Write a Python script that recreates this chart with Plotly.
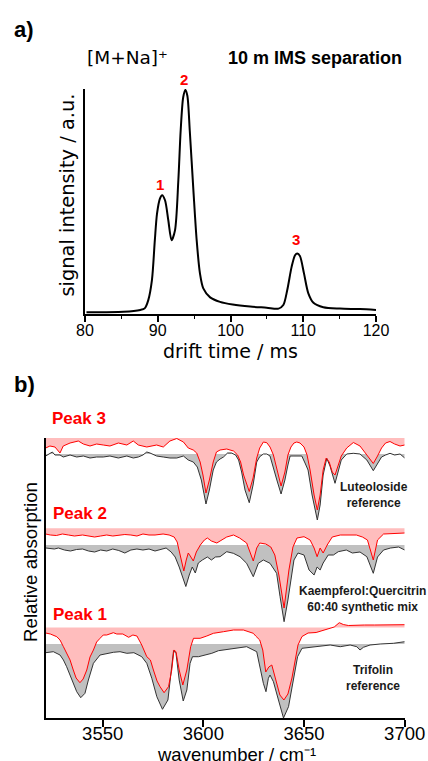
import plotly.graph_objects as go

# ---------------- Panel a: drift time chromatogram ----------------
drift_time = [80.2, 85.3, 87.6, 88.2, 88.7, 89.2, 89.6, 89.9, 90.3, 90.6, 91.0, 91.45, 91.9,
              92.37, 92.83, 93.15, 93.5, 93.8, 94.07, 94.4, 94.9, 95.35, 95.8, 96.26, 97.2,
              98.56, 100.3, 102.7, 104.97, 106.6, 107.26, 107.8, 108.4, 108.87, 109.18,
              109.55, 110.1, 110.7, 111.4, 112.75, 115.05, 117.8, 120.0]
intensity = [0.008, 0.010, 0.018, 0.025, 0.062, 0.151, 0.329, 0.447, 0.514, 0.529, 0.507,
             0.418, 0.329, 0.373, 0.596, 0.818, 0.966, 0.999, 0.973, 0.818, 0.551, 0.329,
             0.181, 0.114, 0.074, 0.054, 0.042, 0.033, 0.028, 0.024, 0.040, 0.107, 0.210,
             0.262, 0.270, 0.258, 0.181, 0.092, 0.050, 0.030, 0.024, 0.022, 0.018]
drift_ticks = [80, 90, 100, 110, 120]

# ---------------- Panel b: IR spectra ----------------
p3_red_x = [3521.7, 3523.8, 3526.3, 3528.8, 3530.4, 3533.8, 3537.9, 3540.4, 3543.7, 3547.0,
            3550.3, 3553.6, 3557.8, 3562.0, 3565.2, 3567.7, 3571.9, 3576.8, 3580.1, 3583.4,
            3586.8, 3590.1, 3592.5, 3595.0, 3596.7, 3598.4, 3599.8, 3601.3, 3603.0, 3604.9,
            3606.5, 3608.3, 3611.6, 3615.0, 3617.0, 3618.5, 3620.0, 3622.8, 3624.7, 3626.5,
            3628.0, 3629.8, 3631.5, 3633.1, 3634.8, 3636.5, 3638.6, 3640.5, 3642.0, 3643.5,
            3645.0, 3646.4, 3648.0, 3650.0, 3651.5, 3653.0, 3655.0, 3656.6, 3658.0, 3659.5,
            3661.0, 3662.5, 3664.0, 3665.4, 3667.0, 3668.5, 3671.2, 3674.5, 3677.8, 3680.0,
            3682.0, 3684.4, 3686.5, 3688.5, 3690.5, 3692.7, 3695.0, 3697.7, 3700.0]
p3_red_y = [-1.0, -0.8, -0.9, -1.5, -0.8, -0.5, -0.3, -0.6, -0.8, -0.6,
            -0.7, -0.8, -0.5, -0.7, -0.3, -0.7, -0.9, -0.7, -0.9, -0.3,
            -0.05, -0.4, -1.0, -1.2, -1.5, -2.4, -3.7, -5.5, -4.2, -2.4,
            -1.4, -1.2, -1.1, -1.3, -1.7, -2.4, -3.7, -5.35, -4.0, -2.0,
            -1.0, -0.4, -0.47, -0.9, -1.7, -3.0, -4.8, -3.4, -1.7, -0.9,
            -0.5, -0.4, -0.5, -0.9, -1.7, -3.2, -5.7, -7.2, -5.7, -3.2,
            -2.0, -2.4, -3.4, -3.7, -2.7, -1.8, -1.0, -0.45, -0.8, -1.4,
            -2.0, -2.55, -1.8, -1.0, -0.5, -0.35, -0.6, -0.8, -0.7]
p3_blk_x = [3521.7, 3523.8, 3525.0, 3526.3, 3528.8, 3530.4, 3533.8, 3537.1, 3540.4, 3543.7,
            3547.0, 3550.3, 3553.6, 3557.8, 3562.0, 3565.2, 3567.7, 3570.0, 3571.9, 3573.5,
            3576.8, 3580.1, 3583.4, 3586.8, 3590.1, 3592.5, 3595.0, 3597.0, 3599.0, 3601.3,
            3603.0, 3604.9, 3606.5, 3608.3, 3610.0, 3612.0, 3614.0, 3616.0, 3617.5, 3619.0,
            3620.7, 3622.8, 3624.7, 3626.5, 3628.0, 3629.8, 3631.5, 3633.1, 3634.5, 3636.5,
            3638.6, 3640.5, 3642.0, 3643.1, 3645.0, 3648.9, 3650.5, 3652.0, 3654.0, 3656.6,
            3658.0, 3659.5, 3661.3, 3662.9, 3665.4, 3667.0, 3668.5, 3671.2, 3674.5, 3677.8,
            3681.2, 3684.4, 3686.5, 3688.5, 3690.5, 3692.7, 3695.0, 3697.7, 3700.0]
p3_blk_y = [-0.2, 0.1, 0.2, -0.1, -0.1, -0.3, -0.1, -0.3, -0.2, -0.4,
            -0.3, -0.3, -0.2, -0.4, -0.2, -0.4, -0.3, -0.1, 0.2, 0.1,
            -0.2, -0.3, -0.4, -0.4, -0.2, -0.6, -0.8, -1.3, -2.6, -5.0,
            -3.6, -1.6, -0.8, -0.5, -0.3, 0.1, 0.1, -0.1, -0.6, -1.8,
            -3.6, -4.87, -3.1, -0.8, -0.27, 0.0, 0.0, -0.2, -1.3, -2.6,
            -4.0, -2.6, -1.1, -0.2, -0.2, -0.2, -0.9, -1.6, -4.1, -6.6,
            -5.1, -2.1, -0.43, -1.2, -2.93, -1.6, -0.6, 0.0, 0.07, 0.0,
            -0.6, -1.67, -0.9, -0.3, -0.1, 0.07, -0.1, 0.0, -0.4]

p2_red_x = [3521.7, 3524, 3527, 3530, 3533, 3536, 3540, 3543, 3546, 3549, 3552, 3555, 3558,
            3561, 3564, 3567, 3570, 3573, 3576, 3580, 3583, 3585.5, 3587, 3588.5, 3590.3,
            3591.5, 3592.5, 3593.5, 3595, 3596.5, 3598.5, 3600.5, 3602, 3604, 3606.7, 3608.3,
            3611.6, 3615, 3618, 3621.5, 3624.8, 3626.5, 3628, 3631, 3633.5, 3635.5, 3637.5,
            3640.1, 3642.5, 3644.5, 3646.5, 3650, 3653, 3655, 3656.5, 3658, 3659.5, 3661.5,
            3664, 3668, 3672, 3676, 3679, 3681.5, 3684.4, 3686.5, 3689.5, 3694, 3698, 3700]
p2_red_y = [-0.57, -0.67, -0.72, -0.57, -0.67, -0.77, -0.67, -0.77, -0.87, -0.77, -0.67,
            -0.77, -0.67, -0.62, -0.67, -0.77, -0.57, -0.67, -0.67, -0.57, -0.67, -0.87,
            -1.37, -2.67, -4.27, -3.17, -2.47, -2.77, -3.27, -2.37, -1.67, -1.17, -0.97,
            -1.27, -1.47, -1.27, -0.87, -0.67, -0.97, -1.47, -3.27, -1.97, -1.47, -1.57,
            -1.87, -2.67, -4.67, -7.97, -4.17, -1.87, -0.97, -0.84, -1.17, -1.97, -2.84,
            -1.97, -2.47, -1.67, -0.87, -0.67, -0.67, -0.67, -0.87, -1.17, -3.17, -1.17,
            -0.57, -0.52, -0.47, -0.47]
p2_blk_x = [3521.7, 3524, 3526, 3528, 3531, 3534, 3537, 3540, 3543, 3546, 3549, 3552, 3555,
            3558, 3561, 3564, 3567, 3570, 3573, 3576, 3579, 3581.5, 3584, 3586, 3588, 3589.8,
            3591.3, 3593, 3594.5, 3596, 3597.5, 3599.5, 3602, 3604, 3606, 3608.3, 3611.6,
            3614.9, 3618.2, 3621.5, 3624.8, 3627.3, 3629.8, 3633.1, 3636.4, 3638.1, 3640.1,
            3642, 3643.5, 3645, 3647, 3650, 3652.5, 3655, 3656.5, 3658, 3659.5, 3662, 3664.6,
            3667, 3671, 3674, 3677.8, 3681.2, 3684.4, 3686.5, 3689.5, 3693, 3697, 3700]
p2_blk_y = [-0.3, -0.35, -0.4, -0.3, -0.5, -0.6, -0.45, -0.4, -0.6, -0.7, -0.5, -0.6, -0.4,
            -0.55, -0.8, -0.5, -0.4, -0.5, -0.4, -0.6, -0.4, -0.3, -0.7, -1.2, -2.2, -3.3,
            -4.15, -3.0, -2.2, -2.8, -1.8, -1.5, -1.2, -1.5, -1.2, -1.17, -0.67, -0.83,
            -1.17, -1.83, -3.17, -1.83, -1.5, -1.83, -2.83, -5.17, -7.67, -5.5, -3.5, -1.5,
            -0.8, -1.0, -2.5, -3.0, -2.2, -2.5, -1.8, -1.0, -1.0, -0.67, -0.5, -0.8, -0.7,
            -1.17, -2.83, -1.2, -0.5, -0.3, -0.2, -0.5]

p1_red_x = [3521.7, 3524, 3527.2, 3528.8, 3530.5, 3532.1, 3533.8, 3535.4, 3536.8, 3538.7,
            3540.3, 3542.1, 3543.7, 3545.4, 3547, 3548.7, 3550.3, 3552, 3555.3, 3557, 3560,
            3562.9, 3565, 3567, 3569.4, 3571.9, 3573.7, 3575.2, 3577, 3578.5, 3580.5, 3582.7,
            3584.3, 3585.4, 3586.4, 3588, 3589.8, 3591.8, 3593.7, 3595.1, 3598.4, 3601.7,
            3605, 3610, 3615, 3619.9, 3624.8, 3626, 3628, 3629.5, 3631, 3632.5, 3634, 3636,
            3638, 3640, 3642, 3644, 3645.5, 3647, 3649, 3652, 3656, 3660, 3663, 3665, 3667.5,
            3669.5, 3672, 3676, 3680, 3685, 3690, 3695, 3700]
p1_red_y = [-0.55, -0.65, -0.92, -1.25, -1.92, -2.58, -3.25, -4.25, -5.05, -5.52, -5.15,
            -4.25, -2.95, -2.25, -1.45, -1.08, -0.75, -0.75, -0.52, -0.65, -0.65, -0.98,
            -0.75, -0.85, -1.75, -2.92, -3.25, -4.25, -5.35, -5.92, -6.52, -5.92, -4.25,
            -2.25, -2.42, -4.25, -5.75, -4.25, -1.92, -1.08, -1.08, -0.85, -0.58, -0.42,
            -0.25, -0.25, -0.58, -0.85, -1.25, -2.25, -4.45, -3.95, -3.75, -5.25, -6.75,
            -7.25, -6.65, -5.05, -3.25, -1.75, -0.9, -0.55, -0.5, -0.25, -0.12, 0.05, 0.48,
            0.3, 0.2, 0.25, 0.25, 0.25, 0.28, 0.28, 0.28]
p1_blk_x = [3521.7, 3525.5, 3528.8, 3530.5, 3532.1, 3534.6, 3537.1, 3539.1, 3541.2, 3542.9,
            3545.4, 3548.7, 3552, 3555.3, 3558.6, 3562, 3565.5, 3569.4, 3571.9, 3574.4,
            3576.9, 3579.7, 3582.4, 3584, 3585.2, 3586.4, 3588, 3590, 3591.8, 3593.4, 3594.6,
            3597.6, 3600.9, 3604.2, 3607.5, 3612.5, 3617.4, 3621.5, 3626.5, 3628.1, 3629.8,
            3631.1, 3632.3, 3633.1, 3634.8, 3637.3, 3639.8, 3642.3, 3644.8, 3646.8, 3649,
            3653.1, 3658.1, 3663, 3668, 3672.9, 3676.2, 3677.8, 3679.5, 3682.8, 3687.8,
            3694.4, 3700]
p1_blk_y = [-0.87, -0.77, -1.1, -1.6, -2.27, -3.6, -4.77, -5.37, -4.93, -3.6, -1.93, -1.1,
            -0.93, -0.83, -0.77, -0.93, -0.87, -1.27, -1.93, -3.43, -5.27, -6.53, -5.6,
            -2.93, -0.67, -0.93, -3.6, -5.7, -4.6, -1.93, -1.27, -1.27, -1.1, -0.93, -0.67,
            -0.53, -0.43, -0.27, -0.77, -2.27, -3.93, -4.77, -3.43, -3.1, -3.77, -5.6, -7.4,
            -6.27, -3.6, -1.27, -0.43, -0.33, -0.27, -0.1, -0.27, -0.1, -0.27, -0.6, -0.33,
            -0.1, 0.0, 0.07, 0.23]

wn_ticks = [3550, 3600, 3650, 3700]

# vertical offsets of the stacked spectra (baselines of red / black traces)
spectra = [
    ("Peak 3", p3_red_x, p3_red_y, 28.0, p3_blk_x, p3_blk_y, 26.4),
    ("Peak 2", p2_red_x, p2_red_y, 18.97, p2_blk_x, p2_blk_y, 17.3),
    ("Peak 1", p1_red_x, p1_red_y, 9.05, p1_blk_x, p1_blk_y, 7.4),
]

PINK = "#ffbdbd"
GRAY = "#c0c0c0"
RED = "#ff0000"
DARK = "#333333"
W, H = 428, 761

fig = go.Figure()

fig.add_trace(go.Scatter(x=drift_time, y=intensity, mode="lines",
                         line=dict(color="black", width=2, shape="spline", smoothing=0.8),
                         xaxis="x", yaxis="y", hoverinfo="skip"))

for name, rx, ry, roff, bx, by, boff in spectra:
    fig.add_trace(go.Scatter(x=list(bx) + list(bx)[::-1],
                             y=[boff + v for v in by] + [boff] * len(bx),
                             mode="lines", fill="toself", fillcolor=GRAY,
                             line=dict(width=0), xaxis="x2", yaxis="y2", hoverinfo="skip"))
for name, rx, ry, roff, bx, by, boff in spectra:
    fig.add_trace(go.Scatter(x=list(rx) + list(rx)[::-1],
                             y=[roff + v for v in ry] + [roff] * len(rx),
                             mode="lines", fill="toself", fillcolor=PINK,
                             line=dict(width=0), xaxis="x2", yaxis="y2", hoverinfo="skip"))
for name, rx, ry, roff, bx, by, boff in spectra:
    fig.add_trace(go.Scatter(x=bx, y=[boff + v for v in by], mode="lines",
                             line=dict(color=DARK, width=1), xaxis="x2", yaxis="y2",
                             hoverinfo="skip"))
    fig.add_trace(go.Scatter(x=rx, y=[roff + v for v in ry], mode="lines",
                             line=dict(color=RED, width=1), xaxis="x2", yaxis="y2",
                             hoverinfo="skip"))

ARIAL = "Liberation Sans, Arial, sans-serif"
WIDE = "DejaVu Sans, sans-serif"

fig.update_layout(
    width=W, height=H, autosize=False, margin=dict(l=0, r=0, t=0, b=0, pad=0),
    paper_bgcolor="white", plot_bgcolor="white", showlegend=False,
    xaxis=dict(domain=[85 / W, 376 / W], range=[80, 120], anchor="y",
               tickvals=drift_ticks, ticks="outside", ticklen=6, tickwidth=1.5,
               tickcolor="black", showline=True, linewidth=1.5, linecolor="black",
               showgrid=False, zeroline=False, automargin=False, ticklabelstandoff=-5,
               tickfont=dict(family=ARIAL, size=16, color="black"),
               minor=dict(dtick=5, tick0=80, ticks="outside", ticklen=3, tickwidth=1.2,
                          tickcolor="black", showgrid=False)),
    yaxis=dict(domain=[1 - 314 / H, 1 - 89 / H], range=[0, 1.003], anchor="x",
               showline=True, linewidth=1.5, linecolor="black", ticks="",
               showticklabels=False, showgrid=False, zeroline=False, automargin=False),
    xaxis2=dict(domain=[45.7 / W, 404.7 / W], range=[3521.7, 3700], anchor="y2",
                tickvals=wn_ticks, ticks="outside", ticklen=7, tickwidth=1.5,
                tickcolor="black", showline=True, linewidth=1.5, linecolor="black",
                showgrid=False, zeroline=False, automargin=False, ticklabelstandoff=-9,
                tickfont=dict(family=ARIAL, size=18.5, color="black")),
    yaxis2=dict(domain=[1 - 718 / H, 1 - 438 / H], range=[0, 28], anchor="x2",
                showline=True, linewidth=1.5, linecolor="black", ticks="",
                showticklabels=False, showgrid=False, zeroline=False, automargin=False),
)


def note(text, px, py, size, family=ARIAL, color="black", xanchor="center", angle=0):
    fig.add_annotation(text=text, x=px / W, y=1 - py / H, xref="paper", yref="paper",
                       showarrow=False, xanchor=xanchor, yanchor="middle", textangle=angle,
                       font=dict(family=family, size=size, color=color))


note("<b>a)</b>", 24, 29, 22)
note("<b>b)</b>", 24.5, 384.5, 22)
note("[M+Na]⁺", 85, 58, 18.5, family=WIDE, xanchor="left")
note("<b>10 m IMS separation</b>", 315, 58, 18)
note("<b>1</b>", 160.3, 184, 15, color=RED)
note("<b>2</b>", 184, 79, 15, color=RED)
note("<b>3</b>", 296, 239, 15, color=RED)
note("drift time / ms", 230, 351, 19, family=WIDE)
note("signal intensity / a.u.", 67.5, 195, 19.4, family=WIDE, angle=-90)

note("<b>Peak 3</b>", 49.5, 419, 17, color=RED, xanchor="left")
note("<b>Peak 2</b>", 51, 513, 17, color=RED, xanchor="left")
note("<b>Peak 1</b>", 51, 614, 17, color=RED, xanchor="left")
note("<b>Luteoloside<br>reference</b>", 374, 495, 12, color="#1a1a1a")
note("<b>Kaempferol:Quercitrin<br>60:40 synthetic mix</b>", 362, 599, 12, color="#1a1a1a")
note("<b>Trifolin<br>reference</b>", 372.5, 678, 12, color="#1a1a1a")
note("wavenumber / cm⁻¹", 236.5, 754, 18.5)
note("Relative absorption", 30, 562, 18.7, angle=-90)

fig.write_html(
    "out.html",
    config={"responsive": False, "displayModeBar": False},
    post_script=(
        "document.documentElement.style.margin='0';"
        "document.documentElement.style.overflow='hidden';"
        "document.body.style.margin='0';document.body.style.padding='0';"
        "document.body.style.overflow='hidden';"
        "Plotly.relayout('{plot_id}', {width: 428, height: 761});"
    ),
)
